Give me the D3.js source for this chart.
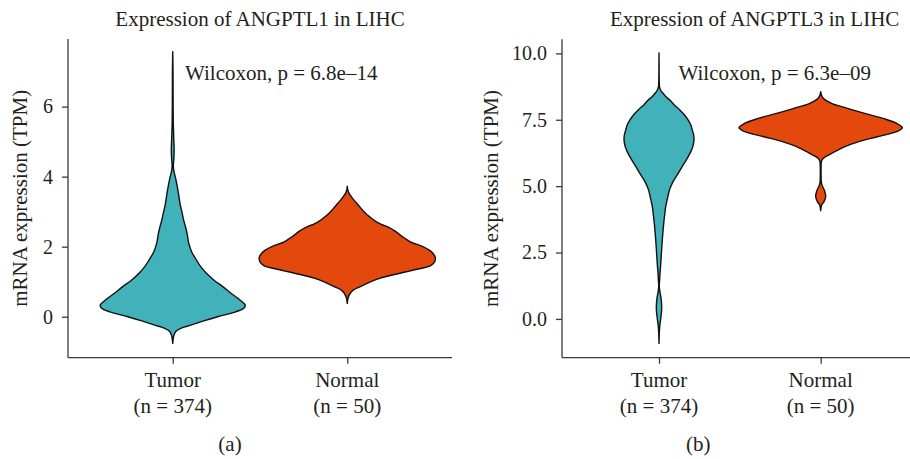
<!DOCTYPE html>
<html>
<head>
<meta charset="utf-8">
<script src="https://cdn.jsdelivr.net/npm/d3@7"></script>
<style>
  html, body { margin: 0; padding: 0; background: #ffffff; }
  svg { display: block; }
  text { font-family: "Liberation Serif", "DejaVu Serif", serif; fill: #231f20; }
</style>
</head>
<body>
<svg id="chart" width="910" height="459"></svg>
<script>
// ---------------- data ----------------
const categories = ["Tumor", "Normal"];
const sampleSizes = [374, 50];
const panelTitles = ["Expression of ANGPTL1 in LIHC", "Expression of ANGPTL3 in LIHC"];
const pLabels = ["Wilcoxon, p = 6.8e\u201314", "Wilcoxon, p = 6.3e\u201309"];
const panelTags = ["(a)", "(b)"];
const yLabel = "mRNA expression (TPM)";

const yTicksA = [0, 2, 4, 6];
const yTicksB = [0, 2.5, 5, 7.5, 10];
const yDomainA = [-1.17, 7.93];
const yDomainB = [-1.46, 10.53];

// violin profiles: [expression (TPM), relative density (% of panel max)]
const tumorA = [[7.57,0],[7.0,0.34],[6.0,0.45],[5.5,0.68],[5.1,1.14],[4.8,1.59],[4.55,1.36],[4.3,0.68],[4.15,1.36],[4.0,2.84],[3.8,4.55],[3.53,6.48],[3.2,8.52],[2.95,10.8],[2.75,12.5],[2.57,14.5],[2.35,16.5],[2.1,18.2],[1.85,21.6],[1.62,26.9],[1.43,31.8],[1.24,38.3],[1.05,46.6],[0.86,56.8],[0.7,64.8],[0.57,71.6],[0.45,77.8],[0.33,82.4],[0.24,80.7],[0.14,71.6],[0.0,51.1],[-0.12,35.2],[-0.24,20.5],[-0.33,9.1],[-0.42,3.4],[-0.55,1.1],[-0.76,0]];
const normalA = [[3.73,0],[3.62,0.6],[3.53,1.9],[3.43,4.5],[3.33,7.6],[3.17,13.1],[3.0,19.0],[2.86,25.0],[2.73,31.8],[2.64,38.6],[2.55,47.2],[2.45,54.0],[2.33,60.2],[2.24,65.3],[2.14,71.6],[2.0,85.8],[1.9,93.2],[1.8,97.7],[1.7,100],[1.62,100],[1.55,98.9],[1.45,94.3],[1.37,81.8],[1.29,68.2],[1.2,52.3],[1.1,37.5],[0.98,25.0],[0.86,14.8],[0.76,6.8],[0.67,3.4],[0.55,1.1],[0.38,0]];
const tumorB = [[10.02,0],[9.5,0.12],[9.0,0.24],[8.75,0.61],[8.68,1.22],[8.58,2.68],[8.49,5.12],[8.37,8.54],[8.24,13.2],[8.05,18.9],[7.87,25.4],[7.68,31.1],[7.49,35.6],[7.3,38.8],[7.11,40.6],[6.95,42.1],[6.8,42.7],[6.65,42.3],[6.49,41.2],[6.3,38.8],[6.11,35.6],[5.8,29.5],[5.48,23.4],[5.17,17.1],[4.86,12.8],[4.55,10.4],[4.23,8.17],[3.9,6.83],[3.6,5.73],[3.3,4.88],[2.97,4.02],[2.65,3.29],[2.35,2.68],[2.0,1.95],[1.72,1.22],[1.45,0.73],[1.22,0.37],[1.0,1.22],[0.84,2.2],[0.65,2.93],[0.46,3.29],[0.27,3.05],[0.09,2.44],[-0.1,1.59],[-0.29,0.85],[-0.54,0.37],[-0.92,0]];
const normalB = [[8.56,0],[8.45,0.73],[8.31,3.05],[8.12,13.2],[7.93,32.6],[7.74,53.7],[7.55,76.2],[7.37,92.4],[7.2,99.6],[7.05,92.4],[6.86,69.1],[6.67,45.7],[6.49,29.5],[6.3,17.3],[6.11,5.85],[6.0,1.83],[5.9,0.73],[5.67,0.49],[5.4,0.49],[5.17,0.73],[5.05,1.46],[4.98,2.44],[4.79,5.12],[4.6,6.1],[4.41,3.9],[4.29,1.22],[4.08,0]];

const colors = ["#41b1ba", "#e3480c"];

// ---------------- drawing ----------------
const svg = d3.select("#chart");

const panels = [
  { title: panelTitles[0], p: pLabels[0], tag: panelTags[0], ticks: yTicksA, dom: yDomainA, fmt: d3.format("d"),
    violins: [tumorA, normalA],
    left: 68, right: 452, top: 39, bottom: 357.7, maxW: 88,
    titleX: 260, pX: 185, tagX: 230, ylabX: 27 },
  { title: panelTitles[1], p: pLabels[1], tag: panelTags[1], ticks: yTicksB, dom: yDomainB, fmt: d3.format(".1f"),
    violins: [tumorB, normalB],
    left: 562, right: 917.7, top: 39.3, bottom: 357.7, maxW: 82,
    titleX: 754.7, pX: 678.5, tagX: 698.3, ylabX: 497.5 }
];

panels.forEach(P => {
  const g = svg.append("g");
  const x = d3.scalePoint().domain(categories).range([P.left, P.right]).padding(0.6);
  const y = d3.scaleLinear().domain(P.dom).range([P.bottom, P.top]);
  const w = d3.scaleLinear().domain([0, 100]).range([0, P.maxW]);

  // violins
  P.violins.forEach((prof, i) => {
    const cx = x(categories[i]);
    const area = d3.area()
      .y(d => y(d[0]))
      .x0(d => cx - w(d[1]))
      .x1(d => cx + w(d[1]))
      .curve(d3.curveCatmullRom.alpha(0.5));
    g.append("path")
      .datum(prof)
      .attr("d", area)
      .attr("fill", colors[i])
      .attr("stroke", "#111")
      .attr("stroke-width", 1.4)
      .attr("stroke-linejoin", "round");
  });

  // y axis
  const ya = g.append("g")
    .attr("transform", `translate(${P.left},0)`)
    .call(d3.axisLeft(y).tickValues(P.ticks).tickFormat(P.fmt).tickSize(6).tickSizeOuter(0).tickPadding(9));
  ya.selectAll("text").attr("font-size", 20).style("font-family", '"Liberation Serif", serif').attr("fill", "#231f20");

  // x axis
  const xa = g.append("g")
    .attr("transform", `translate(0,${P.bottom})`)
    .call(d3.axisBottom(x).tickSize(6).tickSizeOuter(0).tickFormat(""));
  xa.selectAll(".tick text").remove();
  [ya, xa].forEach(a => {
    a.select(".domain").attr("stroke", "#3a3a3a").attr("stroke-width", 1.3);
    a.selectAll(".tick line").attr("stroke", "#3a3a3a").attr("stroke-width", 1.3);
  });
  ya.selectAll("path.domain").attr("d", `M0,${P.top}V${P.bottom}`);
  xa.selectAll("path.domain").attr("d", `M${P.left},0H${P.right}`);

  categories.forEach((c, i) => {
    const t = g.append("text")
      .attr("text-anchor", "middle")
      .attr("font-size", 21);
    t.append("tspan").attr("x", x(c)).attr("y", 386.7).text(c);
    t.append("tspan").attr("x", x(c)).attr("y", 413.3).text(`(n = ${sampleSizes[i]})`);
  });

  // title
  g.append("text").attr("x", P.titleX).attr("y", 26).attr("text-anchor", "middle")
    .attr("font-size", 21).text(P.title);
  // p-value
  g.append("text").attr("x", P.pX).attr("y", 80).attr("font-size", 21).text(P.p);
  // panel tag
  g.append("text").attr("x", P.tagX).attr("y", 451).attr("text-anchor", "middle")
    .attr("font-size", 21).text(P.tag);
  // y label
  g.append("text")
    .attr("transform", `translate(${P.ylabX},${(P.top + P.bottom) / 2}) rotate(-90)`)
    .attr("text-anchor", "middle").attr("font-size", 21).text(yLabel);
});
</script>
</body>
</html>
